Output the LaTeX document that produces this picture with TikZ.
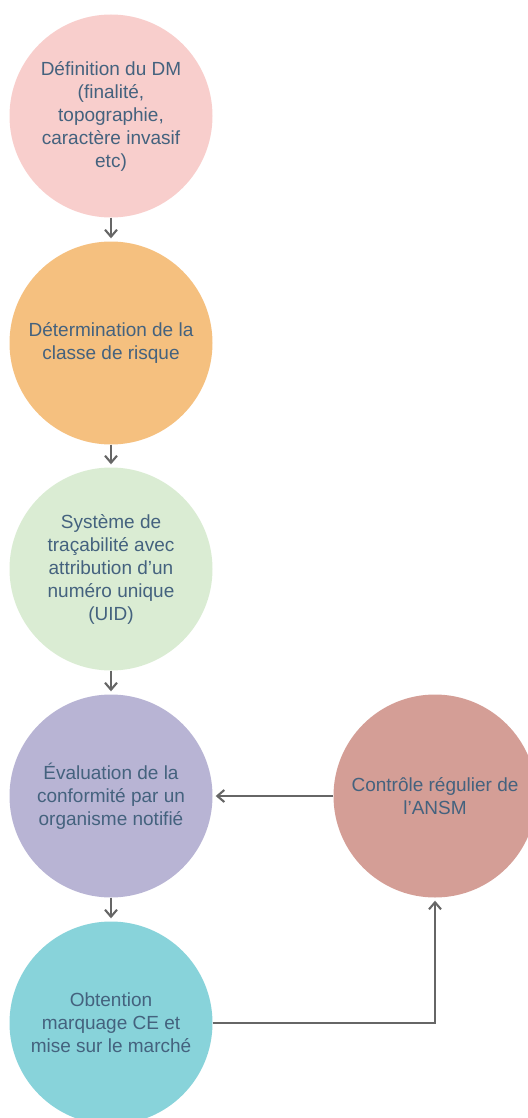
\documentclass[tikz,border=0pt]{standalone}
\usepackage{fontspec}
\setmainfont{Liberation Sans}
\usetikzlibrary{arrows.meta}
\definecolor{txt}{HTML}{44627E}
\definecolor{cpink}{HTML}{F8CECC}
\definecolor{corange}{HTML}{F5C07F}
\definecolor{cgreen}{HTML}{DAECD3}
\definecolor{clav}{HTML}{B8B4D4}
\definecolor{crose}{HTML}{D49E96}
\definecolor{cteal}{HTML}{88D3DA}
\definecolor{lin}{HTML}{666666}
\tikzset{
  bubble/.style={circle, draw=none, minimum size=203pt, inner sep=0pt, align=center,
    text=txt, font=\fontsize{19pt}{23pt}\selectfont},
  conn/.style={draw=lin, line width=2.1pt, -{Straight Barb[length=7pt,width=12pt,line width=2.1pt]}, shorten >=3pt}
}
\begin{document}
\begin{tikzpicture}[x=1pt,y=-1pt]
\useasboundingbox (0,0) rectangle (527,1118);
\node[bubble, fill=cpink] (a) at (111,116) {Définition du DM\\(finalité,\\topographie,\\caractère invasif\\etc)};
\node[bubble, fill=corange] (b) at (111,343) {Détermination de la\\classe de risque};
\node[bubble, fill=cgreen] (c) at (111,569) {Système de\\traçabilité avec\\attribution d’un\\numéro unique\\(UID)};
\node[bubble, fill=clav] (d) at (111,796) {Évaluation de la\\conformité par un\\organisme notifié};
\node[bubble, fill=cteal] (e) at (111,1023) {Obtention\\marquage CE et\\mise sur le marché};
\node[bubble, fill=crose] (f) at (435,796) {Contrôle régulier de\\l’ANSM};
\draw[conn] (a.south) -- (b.north);
\draw[conn] (b.south) -- (c.north);
\draw[conn] (c.south) -- (d.north);
\draw[conn] (d.south) -- (e.north);
\draw[conn] (f.west) -- (d.east);
\draw[conn] (e.east) -| (f.south);
\end{tikzpicture}
\end{document}
